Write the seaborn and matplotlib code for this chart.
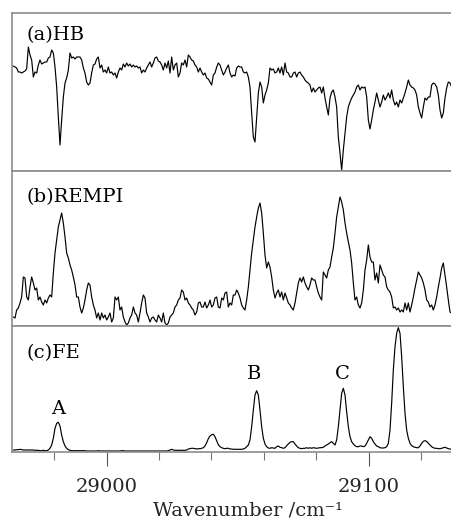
import matplotlib
matplotlib.use("Agg")
import matplotlib.pyplot as plt
import seaborn as sns
import pandas as pd

# ---------------- data ----------------
wavenumber = [
    28964.35, 28964.99, 28965.62, 28966.26, 28966.90, 28967.53, 28968.17, 28968.80, 28969.44, 28970.08, 28970.71,
    28971.35, 28971.99, 28972.62, 28973.26, 28973.90, 28974.53, 28975.17, 28975.80, 28976.44, 28977.08, 28977.71,
    28978.35, 28978.99, 28979.62, 28980.26, 28980.90, 28981.53, 28982.17, 28982.80, 28983.44, 28984.08, 28984.71,
    28985.35, 28985.99, 28986.62, 28987.26, 28987.90, 28988.53, 28989.17, 28989.80, 28990.44, 28991.08, 28991.71,
    28992.35, 28992.99, 28993.62, 28994.26, 28994.90, 28995.53, 28996.17, 28996.80, 28997.44, 28998.08, 28998.71,
    28999.35, 28999.99, 29000.62, 29001.26, 29001.90, 29002.53, 29003.17, 29003.80, 29004.44, 29005.08, 29005.71,
    29006.35, 29006.99, 29007.62, 29008.26, 29008.90, 29009.53, 29010.17, 29010.80, 29011.44, 29012.08, 29012.71,
    29013.35, 29013.99, 29014.62, 29015.26, 29015.90, 29016.53, 29017.17, 29017.80, 29018.44, 29019.08, 29019.71,
    29020.35, 29020.99, 29021.62, 29022.26, 29022.90, 29023.53, 29024.17, 29024.80, 29025.44, 29026.08, 29026.71,
    29027.35, 29027.99, 29028.62, 29029.26, 29029.90, 29030.53, 29031.17, 29031.80, 29032.44, 29033.08, 29033.71,
    29034.35, 29034.99, 29035.62, 29036.26, 29036.90, 29037.53, 29038.17, 29038.80, 29039.44, 29040.08, 29040.71,
    29041.35, 29041.99, 29042.62, 29043.26, 29043.90, 29044.53, 29045.17, 29045.80, 29046.44, 29047.08, 29047.71,
    29048.35, 29048.99, 29049.62, 29050.26, 29050.90, 29051.53, 29052.17, 29052.80, 29053.44, 29054.08, 29054.71,
    29055.35, 29055.99, 29056.62, 29057.26, 29057.90, 29058.53, 29059.17, 29059.80, 29060.44, 29061.08, 29061.71,
    29062.35, 29062.99, 29063.62, 29064.26, 29064.90, 29065.53, 29066.17, 29066.80, 29067.44, 29068.08, 29068.71,
    29069.35, 29069.99, 29070.62, 29071.26, 29071.90, 29072.53, 29073.17, 29073.80, 29074.44, 29075.08, 29075.71,
    29076.35, 29076.99, 29077.62, 29078.26, 29078.90, 29079.53, 29080.17, 29080.80, 29081.44, 29082.08, 29082.71,
    29083.35, 29083.99, 29084.62, 29085.26, 29085.90, 29086.53, 29087.17, 29087.80, 29088.44, 29089.08, 29089.71,
    29090.35, 29090.99, 29091.62, 29092.26, 29092.90, 29093.53, 29094.17, 29094.80, 29095.44, 29096.08, 29096.71,
    29097.35, 29097.99, 29098.62, 29099.26, 29099.90, 29100.53, 29101.17, 29101.80, 29102.44, 29103.08, 29103.71,
    29104.35, 29104.99, 29105.62, 29106.26, 29106.90, 29107.53, 29108.17, 29108.80, 29109.44, 29110.08, 29110.71,
    29111.35, 29111.99, 29112.62, 29113.26, 29113.90, 29114.53, 29115.17, 29115.80, 29116.44, 29117.08, 29117.71,
    29118.35, 29118.99, 29119.62, 29120.26, 29120.90, 29121.53, 29122.17, 29122.80, 29123.44, 29124.08, 29124.71,
    29125.35, 29125.99, 29126.62, 29127.26, 29127.90, 29128.53, 29129.17, 29129.80, 29130.44, 29131.08, 29131.71,
]

hb_signal = [
    105, 104, 103, 99, 99, 98, 99, 100, 102, 124,
    116, 111, 94, 99, 98, 106, 111, 107, 108, 109,
    109, 113, 114, 121, 118, 104, 84, 54, 26, 51,
    74, 88, 93, 101, 118, 113, 114, 112, 114, 114,
    114, 111, 103, 98, 89, 86, 88, 98, 106, 107,
    112, 114, 103, 106, 99, 101, 98, 104, 98, 99,
    96, 98, 93, 99, 103, 101, 107, 104, 108, 105,
    107, 104, 106, 104, 105, 103, 104, 98, 101, 99,
    103, 106, 109, 104, 108, 113, 114, 110, 109, 106,
    101, 108, 103, 110, 98, 114, 101, 106, 108, 94,
    98, 108, 106, 111, 104, 116, 114, 111, 110, 106,
    104, 99, 103, 99, 96, 98, 93, 92, 89, 86,
    96, 98, 104, 108, 106, 101, 96, 99, 103, 106,
    98, 94, 96, 95,
    103, 105, 104, 104, 99, 98, 99, 94, 84, 58,
    34, 29, 54, 78, 89, 84, 68, 76, 81, 88,
    103, 101, 102, 98, 99, 103, 98, 104, 96, 108,
    99, 98, 94, 94, 98, 99, 94, 98, 99, 96,
    94, 91, 89, 88, 86, 79, 83, 79, 81, 83,
    84, 78, 84, 73, 64, 56, 73, 79, 81, 74,
    64, 34, 18, 1, 21, 38, 54, 64, 69, 73,
    76, 79, 84, 86, 81, 84, 83, 84, 74, 51,
    42, 51, 61, 69, 78, 71, 64, 69, 76, 71,
    74, 78, 73, 81, 71, 66, 69, 64, 71, 68,
    73, 78, 84, 91, 86, 84, 83, 81, 76, 64,
    58, 53, 64, 73, 71, 74, 74, 86, 88, 87,
    84, 76, 61, 53, 58, 73, 83, 89, 88, 84,
]

rempi_signal = [
    9, 8, 16, 18, 23, 29, 49, 48, 29, 26,
    39, 49, 43, 36, 38, 26, 29, 24, 21, 26,
    23, 28, 31, 29, 53, 73, 86, 99, 106, 113,
    103, 89, 73, 68, 61, 56, 49, 41, 29, 29,
    19, 13, 18, 26, 36, 43, 41, 29, 21, 16,
    8, 13, 6, 13, 8, 11, 6, 9, 13, 4,
    8, 29, 26, 29, 16, 19, 9, 4, 1, 3,
    8, 11, 19, 13, 11, 4, 13, 23, 31, 28,
    13, 9, 4, 8, 9, 6, 4, 11, 8, 4,
    13, 3, 1, 3, 9, 11, 13, 19, 21, 26,
    28, 36, 34, 26, 28, 23, 21, 18, 16, 11,
    14, 23, 24, 19, 19, 24, 18, 21, 26, 19,
    21, 28, 29, 19, 18, 28, 26, 33, 34, 19,
    23, 21, 31, 31,
    36, 33, 28, 21, 18, 16, 26, 39, 56, 73,
    86, 99, 109, 118, 123, 113, 93, 71, 58, 64,
    59, 49, 36, 28, 33, 36, 29, 34, 26, 33,
    28, 23, 21, 18, 16, 23, 33, 43, 48, 44,
    49, 43, 39, 36, 41, 48, 46, 46, 39, 33,
    29, 26, 54, 51, 48, 56, 59, 69, 78, 93,
    109, 119, 129, 124, 116, 103, 93, 84, 76, 63,
    43, 26, 29, 21, 18, 23, 36, 56, 66, 81,
    69, 64, 64, 46, 53, 43, 61, 56, 51, 49,
    39, 36, 34, 29, 18, 19, 16, 18, 14, 16,
    14, 23, 16, 23, 14, 21, 29, 38, 46, 54,
    51, 48, 43, 36, 26, 24, 19, 21, 16, 21,
    29, 39, 48, 58, 63, 51, 39, 26, 14, 13,
]

fe_signal = [
    2.0, 2.0, 2.3, 2.3, 2.7, 2.3, 2.0, 2.0, 2.0, 2.0,
    2.0, 2.0, 2.0, 1.7, 1.7, 1.7, 1.3, 1.3, 1.7, 1.3,
    1.3, 2.0, 3.7, 7.0, 13.7, 23.7, 28.7, 29.7, 26.0, 17.0,
    10.3, 6.0, 3.7, 2.3, 1.7, 1.3, 1.3, 1.3, 1.3, 1.3,
    1.3, 1.3, 1.3, 1.3, 1.0, 1.0, 1.0, 1.0, 1.0, 1.0,
    1.0, 1.3, 1.0, 1.0, 1.0, 1.0, 1.0, 1.0, 1.0, 1.0,
    1.0, 1.0, 1.0, 1.0, 1.0, 1.3, 1.3, 1.0, 1.0, 1.0,
    1.0, 1.0, 1.0, 1.0, 1.0, 1.0, 1.0, 1.0, 1.0, 1.0,
    1.0, 1.0, 1.0, 1.0, 1.0, 1.0, 1.0, 1.0, 1.0, 1.0,
    1.0, 1.0, 1.0, 1.3, 2.0, 2.7, 2.0, 1.7, 1.7, 1.7,
    1.7, 1.7, 1.7, 1.7, 2.0, 3.0, 3.3, 3.7, 3.7, 3.3,
    3.0, 3.3, 3.3, 3.7, 4.3, 6.0, 9.3, 13.3, 16.0, 17.3,
    17.7, 15.3, 11.3, 7.3, 5.3, 4.3, 3.7, 3.3, 3.7, 3.7,
    3.0, 3.0, 2.7, 2.7,
    2.7, 2.7, 2.7, 2.7, 3.0, 3.7, 5.3, 7.0, 12.0, 25.3,
    42.0, 57.0, 61.3, 57.0, 42.0, 25.3, 13.7, 8.0, 5.3, 4.0,
    3.7, 4.3, 4.0, 3.7, 5.3, 6.0, 4.7, 4.3, 3.7, 4.3,
    6.3, 8.0, 9.7, 10.3, 10.3, 8.0, 6.0, 4.3, 3.7, 3.3,
    3.7, 3.7, 4.3, 3.7, 4.3, 3.7, 4.3, 4.0, 3.7, 4.0,
    4.3, 4.3, 4.7, 6.0, 7.0, 8.0, 9.3, 10.3, 8.7, 7.0,
    12.0, 25.3, 42.0, 58.7, 63.7, 57.0, 40.3, 25.3, 15.3, 10.3,
    8.0, 6.3, 5.3, 5.3, 6.0, 6.0, 5.3, 6.0, 8.7, 12.0,
    15.3, 13.7, 10.3, 8.0, 6.0, 5.3, 4.3, 4.0, 4.0, 4.3,
    5.3, 8.7, 22.0, 48.7, 82.0, 105.3, 118.7, 124.3, 118.7, 95.3,
    65.3, 38.7, 22.0, 13.7, 8.7, 6.3, 5.3, 4.7, 4.3, 4.3,
    6.0, 8.7, 10.7, 11.3, 10.7, 8.7, 7.0, 5.3, 4.3, 3.7,
    3.7, 3.3, 3.3, 3.7, 4.3, 4.7, 4.0, 3.3, 3.0, 2.7,
]

panel_labels = ["(a)HB", "(b)REMPI", "(c)FE"]
peak_labels = ["A", "B", "C"]
peak_label_x = [28981.4, 29056.2, 29089.8]
peak_label_y = [38.0, 72.7, 72.7]
major_ticks = [29000, 29100]
major_tick_labels = ["29000", "29100"]
minor_ticks = [28980, 29020, 29040, 29060, 29080, 29120]
x_label = "Wavenumber /cm\u207b\u00b9"

# ---------------- drawing ----------------
sns.set_style("white")
plt.rcParams["font.family"] = ["DejaVu Serif", "DejaVu Sans"]

df = pd.DataFrame({"wavenumber": wavenumber, "HB": hb_signal,
                   "REMPI": rempi_signal, "FE": fe_signal})

W, H = 452.0, 520.0
fig = plt.figure(figsize=(W / 100, H / 100), dpi=100)


def rect(x0, y0, x1, y1):
    return [x0 / W, 1 - y1 / H, (x1 - x0) / W, (y1 - y0) / H]


ax_a = fig.add_axes(rect(12, 13, 484, 171))
ax_b = fig.add_axes(rect(12, 171, 484, 326))
ax_c = fig.add_axes(rect(12, 326, 484, 452))
axes = [ax_a, ax_b, ax_c]
cols = ["HB", "REMPI", "FE"]
ylims = [(0, 158), (0, 155), (0, 126)]
label_y = [0.829, 0.802, 0.744]

frame_color = "#8c8c8c"
for ax, col, yl, lab, ly in zip(axes, cols, ylims, panel_labels, label_y):
    sns.lineplot(data=df, x="wavenumber", y=col, ax=ax, color="black",
                 linewidth=0.85, estimator=None, sort=False)
    ax.set_xlim(28963.84, 29144.06)
    ax.set_ylim(*yl)
    ax.set_ylabel("")
    ax.set_xlabel("")
    ax.set_yticks([])
    for s in ax.spines.values():
        s.set_color(frame_color)
        s.set_linewidth(1.2)
    ax.text(0.031, ly, lab, transform=ax.transAxes, fontsize=14,
            ha="left", va="baseline", color="black")
    ax.tick_params(axis="y", left=False, labelleft=False)

for ax in (ax_a, ax_b):
    ax.set_xticks([])
    ax.tick_params(axis="x", bottom=False, labelbottom=False)

for t, x, y in zip(peak_labels, peak_label_x, peak_label_y):
    ax_c.text(x, y, t, fontsize=14, ha="center", va="baseline", color="black")

ax_c.set_xticks(major_ticks)
ax_c.set_xticklabels(major_tick_labels)
ax_c.set_xticks(minor_ticks, minor=True)
ax_c.tick_params(axis="x", which="major", direction="out", length=10,
                 width=0.8, color="#555555", pad=8.5, labelsize=14,
                 bottom=True)
ax_c.tick_params(axis="x", which="minor", direction="out", length=5.8,
                 width=0.8, color="#777777", bottom=True)
ax_c.set_xlabel(x_label, fontsize=14, labelpad=4)

fig.savefig("out.png", dpi=100)
